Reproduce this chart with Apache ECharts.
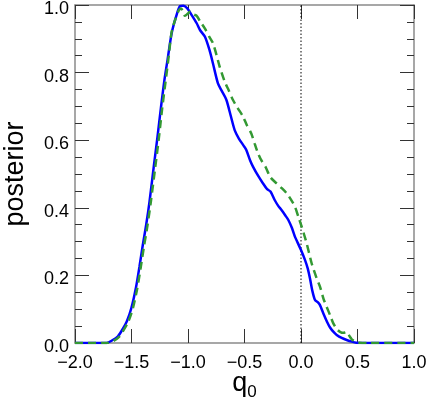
<!DOCTYPE html>
<html>
<head>
<meta charset="utf-8">
<script src="https://cdn.jsdelivr.net/npm/echarts@6/dist/echarts.min.js"></script>
<style>html,body{margin:0;padding:0;background:#fff}#c{width:426px;height:397px}</style>
</head>
<body>
<div id="c"></div>
<script>
// Blue solid curve
var qBlue = [-2.0,-1.8,-1.72,-1.67,-1.62,-1.58,-1.54,-1.5,-1.46,-1.43,-1.40,-1.37,-1.34,-1.30,-1.27,-1.24,-1.21,-1.18,-1.145,-1.106,-1.07,-1.04,-1.006,-0.967,-0.923,-0.894,-0.85,-0.81,-0.779,-0.735,-0.70,-0.66,-0.62,-0.587,-0.55,-0.50,-0.484,-0.45,-0.425,-0.38,-0.336,-0.30,-0.27,-0.233,-0.20,-0.171,-0.14,-0.112,-0.08,-0.053,-0.03,0.0,0.035,0.06,0.08,0.10,0.124,0.15,0.168,0.197,0.23,0.257,0.29,0.316,0.36,0.404,0.45,0.49,0.55,1.0];
var pBlue = [0,0,0,0.008,0.02,0.04,0.065,0.105,0.165,0.225,0.29,0.35,0.42,0.53,0.61,0.695,0.775,0.84,0.916,0.965,0.997,0.998,0.99,0.97,0.946,0.926,0.906,0.867,0.827,0.768,0.745,0.719,0.67,0.63,0.605,0.58,0.571,0.54,0.522,0.495,0.472,0.455,0.448,0.423,0.405,0.393,0.378,0.364,0.34,0.314,0.297,0.275,0.246,0.22,0.19,0.155,0.127,0.12,0.112,0.088,0.063,0.046,0.032,0.024,0.015,0.009,0.004,0.001,0,0];
// Green dashed curve
var qGreen = [-2.0,-1.72,-1.66,-1.61,-1.57,-1.53,-1.49,-1.45,-1.42,-1.39,-1.36,-1.33,-1.29,-1.26,-1.23,-1.20,-1.17,-1.145,-1.11,-1.08,-1.06,-1.04,-1.027,-1.0,-0.982,-0.95,-0.923,-0.89,-0.85,-0.81,-0.779,-0.75,-0.72,-0.675,-0.64,-0.602,-0.56,-0.513,-0.48,-0.44,-0.41,-0.38,-0.35,-0.315,-0.27,-0.215,-0.17,-0.127,-0.09,-0.053,-0.02,0.006,0.05,0.094,0.139,0.168,0.2,0.227,0.26,0.286,0.32,0.345,0.375,0.404,0.43,0.449,0.48,0.52,0.6,1.0];
var pGreen = [0,0,0.006,0.018,0.038,0.062,0.1,0.16,0.22,0.285,0.345,0.415,0.52,0.6,0.69,0.77,0.85,0.92,0.96,0.985,0.99,0.975,0.968,0.975,0.98,0.972,0.968,0.95,0.93,0.905,0.887,0.855,0.818,0.773,0.748,0.719,0.695,0.67,0.645,0.62,0.59,0.561,0.54,0.522,0.49,0.472,0.458,0.443,0.425,0.403,0.37,0.344,0.295,0.236,0.191,0.167,0.13,0.107,0.08,0.058,0.04,0.033,0.03,0.033,0.02,0.011,0.004,0.001,0,0];
var xTicks = [-2.0,-1.5,-1.0,-0.5,0.0,0.5,1.0];
var yTicks = [0.0,0.2,0.4,0.6,0.8,1.0];
var vLineX = 0.0;

function zip(a,b){return a.map(function(v,i){return [v,b[i]];});}
function fmt(v){return v.toFixed(1).replace('-', '\u2212');}
var font = 'Liberation Sans, Arial, Helvetica, sans-serif';
var frame = '#8a8a8a', tickC = '#333';

var chart = echarts.init(document.getElementById('c'), null, {renderer:'canvas'});
var xBase = {type:'value', min:xTicks[0], max:xTicks[xTicks.length-1], interval:0.5,
  splitLine:{show:false}, axisLine:{onZero:false, lineStyle:{color:frame, width:1.5}},
  axisTick:{inside:true, length:14, lineStyle:{color:tickC, width:1}}};
var yBase = {type:'value', min:yTicks[0], max:yTicks[yTicks.length-1], interval:0.2,
  splitLine:{show:false}, axisLine:{onZero:false, lineStyle:{color:frame, width:1.5}},
  axisTick:{inside:true, length:14, lineStyle:{color:tickC, width:1}},
  minorTick:{show:true, splitNumber:4, length:7, lineStyle:{color:tickC, width:1}}};

chart.setOption({
  animation:false,
  grid:{left:75, right:12, top:5, bottom:54, containLabel:false, outerBoundsMode:'none'},
  xAxis:[
    Object.assign({}, xBase, {position:'bottom',
      axisLabel:{formatter:fmt, fontSize:18, color:'#000', fontFamily:font, margin:11},
      name:'{q|q}{s|0}', nameLocation:'middle', nameGap:23, nameMoveOverlap:false,
      nameTextStyle:{rich:{q:{fontSize:27, fontFamily:font, color:'#000'}, s:{fontSize:17, fontFamily:font, color:'#000', verticalAlign:'bottom', padding:[18,0,0,0]}}}}),
    Object.assign({}, xBase, {position:'top', axisLabel:{show:false}})
  ],
  yAxis:[
    Object.assign({}, yBase, {position:'left',
      axisLabel:{formatter:fmt, fontSize:18, color:'#000', fontFamily:font, margin:6, verticalAlign:'top', lineHeight:8},
      name:'posterior', nameLocation:'middle', nameGap:46, nameMoveOverlap:false,
      nameTextStyle:{fontSize:27, fontFamily:font, color:'#000'}}),
    Object.assign({}, yBase, {position:'right', axisLabel:{show:false}})
  ],
  series:[
    {type:'line', data:[[vLineX,yTicks[0]],[vLineX,yTicks[yTicks.length-1]]], symbol:'none', silent:true,
      lineStyle:{color:'#000', width:1, type:[1.5,2]}, z:1},
    {type:'line', data:zip(qBlue,pBlue), symbol:'none', smooth:0.25,
      lineStyle:{color:'#0000ff', width:2.5}, z:3},
    {type:'line', data:zip(qGreen,pGreen), symbol:'none', smooth:0.25,
      lineStyle:{color:'#339933', width:2.5, type:[8,5]}, z:4}
  ]
});
</script>
</body>
</html>
